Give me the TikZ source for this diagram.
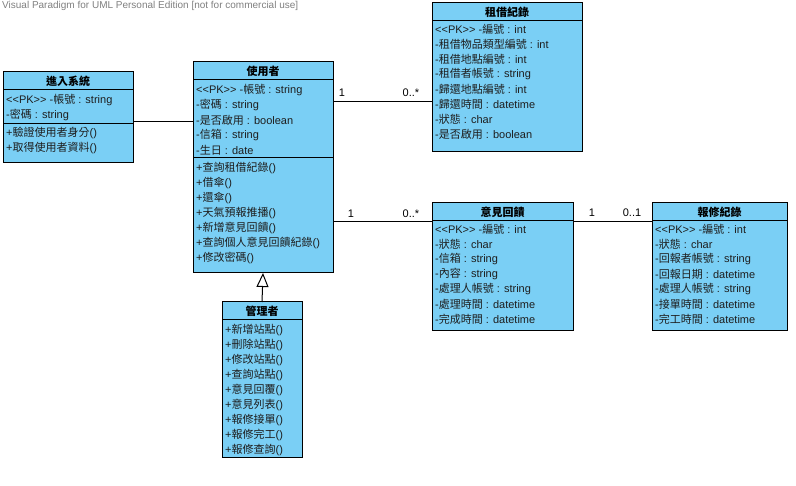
\documentclass[tikz,border=0pt]{standalone}
\usepackage{fontspec}
\setmainfont{Liberation Sans}
\newfontfamily\cjk{Noto Sans CJK TC}
\usetikzlibrary{arrows.meta,calc}
\definecolor{classfill}{RGB}{122,207,245}
\definecolor{inkc}{RGB}{30,30,30}
\newcommand\zh[1]{{\cjk #1}}
% kerns keep the two angle brackets from turning into guillemets
\newcommand\pkmark{\textless\kern0pt\textless PK\textgreater\kern0pt\textgreater\ }

\tikzset{
  classbox/.style={draw=black, fill=classfill, line width=1pt, anchor=north west, inner sep=0pt, outer sep=0pt},
  ctitle/.style={font=\fontsize{11}{13}\selectfont\cjk\bfseries, inner sep=0pt, text=black},
  crow/.style={font=\fontsize{11}{13}\selectfont, anchor=west, inner sep=0pt, text=inkc},
  sepline/.style={line width=1pt},
  assoc/.style={line width=1pt},
  mult/.style={font=\fontsize{11}{13}\selectfont, inner sep=0pt},
  generalize/.style={line width=1pt, -{Triangle[open, length=14pt, width=12pt, line width=1pt]}},
}

% class box: name, left, top, width, height, title
\newcommand\umlclass[6]{%
  \node[classbox, minimum width=#4pt, minimum height=#5pt] (#1) at (#2,#3) {};
  \node[ctitle] (#1-title) at ($(#1.north)+(0,9)$) {#6};
  \draw[sepline] ($(#1.north west)+(0,18)$) -- ($(#1.north east)+(0,18)$);
}
% compartment rows: name prefix, left, first row centre, list of entries
\newcommand\umlrows[4]{%
  \foreach \t [count=\i] in {#4}
    \node[crow] (#1\i) at ({#2+3},{#3+15*(\i-1)}) {\t};
}

\begin{document}
\begin{tikzpicture}[x=1pt,y=-1pt]
  \useasboundingbox (0,0) rectangle (796,486);
  \fill[white] (0,0) rectangle (796,486);

  \node[anchor=west, font=\fontsize{10}{12}\selectfont, text=gray, inner sep=0pt] (wm) at (2,6)
    {Visual Paradigm for UML Personal Edition [not for commercial use]};

  % login system
  \umlclass{login}{3}{72}{130}{91}{進入系統}
  \umlrows{login-a}{3}{100}{{\pkmark -\zh{帳號} : string},{-\zh{密碼} : string}}
  \draw[sepline] (login.west |- 0,124) -- (login.east |- 0,124);
  \umlrows{login-o}{3}{133}{{+\zh{驗證使用者身分}()},{+\zh{取得使用者資料}()}}

  % user
  \umlclass{user}{193}{62}{140}{211}{使用者}
  \umlrows{user-a}{193}{90}{{\pkmark -\zh{帳號} : string},{-\zh{密碼} : string},{-\zh{是否啟用} : boolean},{-\zh{信箱} : string},{-\zh{生日} : date}}
  \draw[sepline] (user.west |- 0,158) -- (user.east |- 0,158);
  \umlrows{user-o}{193}{168}{{+\zh{查詢租借紀錄}()},{+\zh{借傘}()},{+\zh{還傘}()},{+\zh{天氣預報推播}()},{+\zh{新增意見回饋}()},{+\zh{查詢個人意見回饋紀錄}()},{+\zh{修改密碼}()}}

  % rental record
  \umlclass{rental}{432}{3}{150}{149}{租借紀錄}
  \umlrows{rental-a}{432}{29}{{\pkmark -\zh{編號} : int},{-\zh{租借物品類型編號} : int},{-\zh{租借地點編號} : int},{-\zh{租借者帳號} : string},{-\zh{歸還地點編號} : int},{-\zh{歸還時間} : datetime},{-\zh{狀態} : char},{-\zh{是否啟用} : boolean}}

  % administrator
  \umlclass{admin}{222}{302}{80}{156}{管理者}
  \umlrows{admin-o}{222}{330}{{+\zh{新增站點}()},{+\zh{刪除站點}()},{+\zh{修改站點}()},{+\zh{查詢站點}()},{+\zh{意見回覆}()},{+\zh{意見列表}()},{+\zh{報修接單}()},{+\zh{報修完工}()},{+\zh{報修查詢}()}}

  % feedback
  \umlclass{feedback}{432}{203}{141}{128}{意見回饋}
  \umlrows{feedback-a}{432}{229}{{\pkmark -\zh{編號} : int},{-\zh{狀態} : char},{-\zh{信箱} : string},{-\zh{內容} : string},{-\zh{處理人帳號} : string},{-\zh{處理時間} : datetime},{-\zh{完成時間} : datetime}}

  % repair record
  \umlclass{repair}{652}{203}{135}{128}{報修紀錄}
  \umlrows{repair-a}{652}{229}{{\pkmark -\zh{編號} : int},{-\zh{狀態} : char},{-\zh{回報者帳號} : string},{-\zh{回報日期} : datetime},{-\zh{處理人帳號} : string},{-\zh{接單時間} : datetime},{-\zh{完工時間} : datetime}}

  % associations
  \draw[assoc] (login.east |- 0,122) -- (user.west |- 0,122);
  \draw[assoc] (user.east |- 0,102) -- (rental.west |- 0,102);
  \draw[assoc] (user.east |- 0,222) -- (feedback.west |- 0,222);
  \draw[assoc] (feedback.east |- 0,222) -- (repair.west |- 0,222);

  \node[mult] (m1) at (342,93) {1};
  \node[mult] (m2) at (411,93) {0..*};
  \node[mult] (m3) at (351,214) {1};
  \node[mult] (m4) at (411,214) {0..*};
  \node[mult] (m5) at (592,213) {1};
  \node[mult] (m6) at (632,213) {0..1};

  % generalization
  \draw[generalize] (admin.north) -- (user.south);
\end{tikzpicture}
\end{document}
